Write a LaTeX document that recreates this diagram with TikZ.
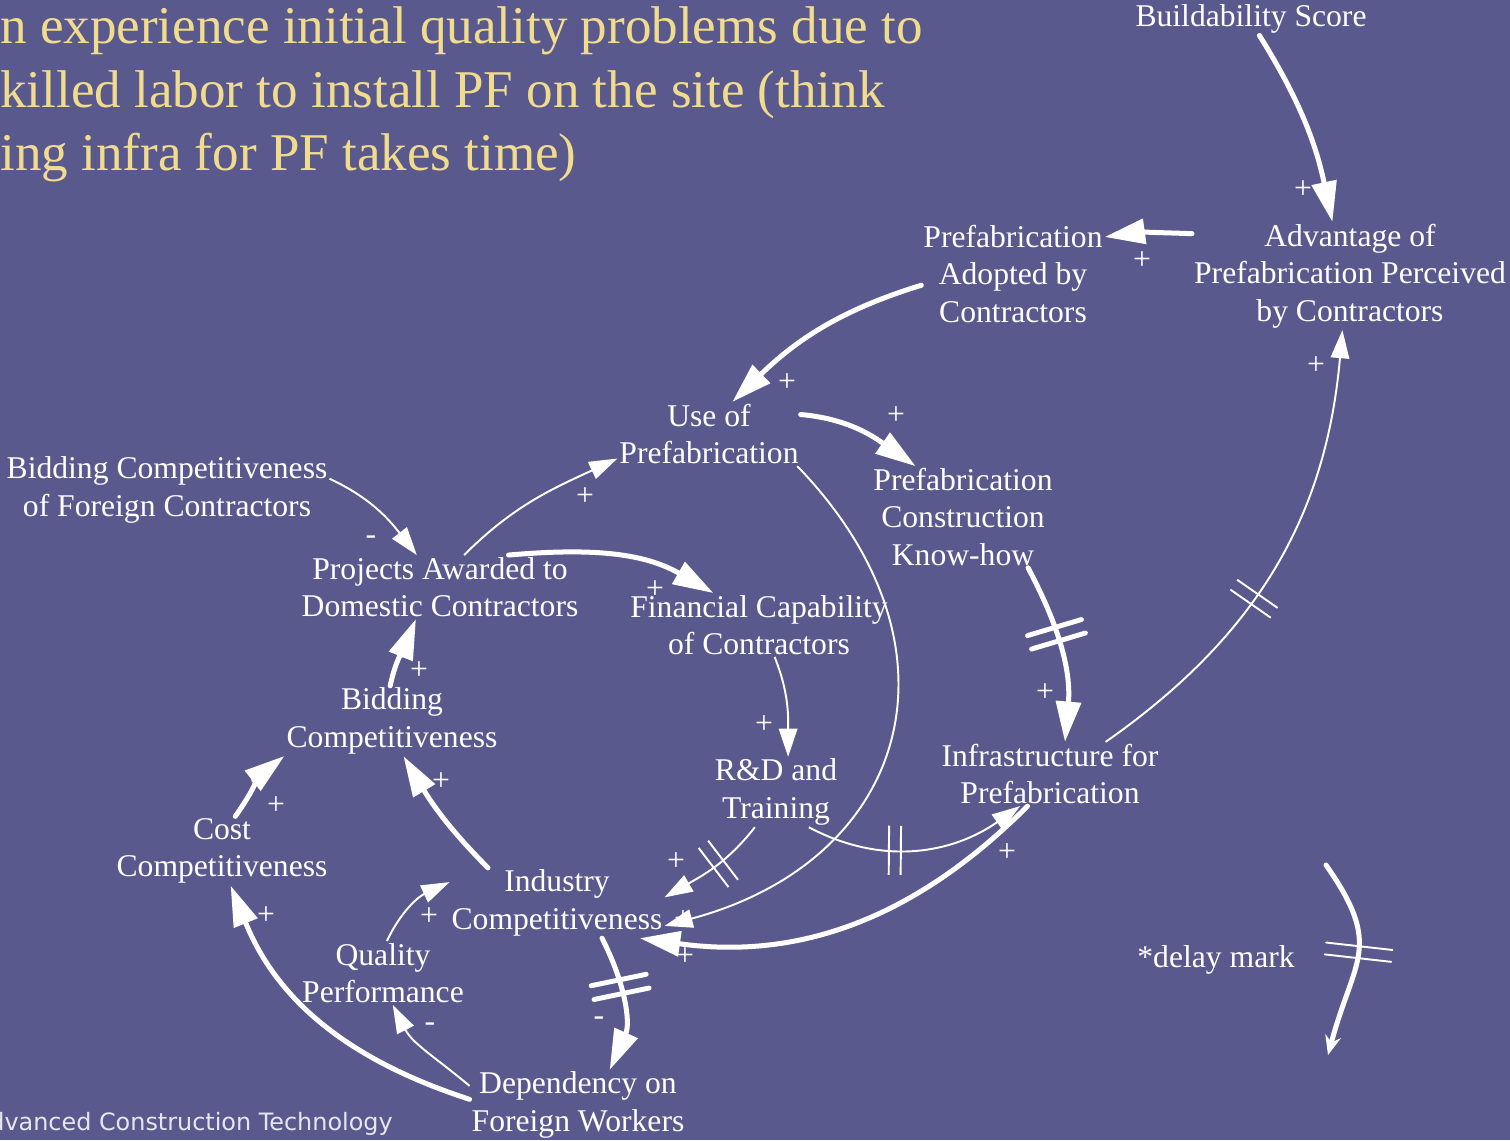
\documentclass[tikz,border=0pt]{standalone}
\usepackage{fontspec}
\setmainfont{Liberation Serif}
\newfontfamily\footfont{DejaVu Sans}
\usetikzlibrary{arrows.meta,decorations.markings}
\definecolor{slate}{HTML}{5A598E}
\definecolor{sand}{HTML}{F0DC8C}
\definecolor{chalk}{HTML}{FFFFFF}
\definecolor{mist}{HTML}{E6E6EE}

\begin{document}
\begin{tikzpicture}[x=0.02cm,y=-0.02cm, every node/.style={text=chalk,inner sep=1pt}, var/.style={align=center,font=\fontsize{18}{21.3}\selectfont}, sgn/.style={font=\fontsize{18}{20}\selectfont}, thk/.style={draw=chalk,line width=2.85pt,line cap=round,-{Triangle[length=23pt,width=14pt]}}, thn/.style={draw=chalk,line width=1.1pt,-{Triangle[length=16pt,width=10.5pt]}}, dlythk/.style={postaction={decorate,decoration={markings,mark=at position #1 with {\draw[chalk,line width=2.8pt,line cap=round,-] (-4pt,-16pt)--(-4pt,16pt) (4pt,-16pt)--(4pt,16pt);}}}}, dlythn/.style 2 args={postaction={decorate,decoration={markings,mark=at position #1 with {\draw[chalk,line width=1.1pt,-] (-3.4pt,-#2)--(-3.4pt,#2) (3.4pt,-#2)--(3.4pt,#2);}}}}]
\useasboundingbox (0,0) rectangle (1510,1140);
\fill[slate] (0,0) rectangle (1510,1140);
% note at the top, cut at the left edge
\node[anchor=base west,inner sep=0,text=sand,font=\fontsize{30.2}{36}\selectfont] (note1) at (0,43) {n experience initial quality problems due to};
\node[anchor=base west,inner sep=0,text=sand,font=\fontsize{30.2}{36}\selectfont] (note2) at (0,107) {killed labor to install PF on the site (think};
\node[anchor=base west,inner sep=0,text=sand,font=\fontsize{30.2}{36}\selectfont] (note3) at (0,170) {ing infra for PF takes time)};
\node[anchor=base west,inner sep=0,text=mist,font=\footfont\fontsize{13.6}{15}\selectfont] (footer) at (-11,1130) {dvanced Construction Technology};
% variables
\node[var] (score) at (1251,19) {Buildability Score};
\node[var] (advantage) at (1350,276) {Advantage of\\Prefabrication Perceived\\by Contractors};
\node[var] (adopted) at (1013,274) {Prefabrication\\Adopted by\\Contractors};
\node[var] (usepf) at (709,434) {Use of\\Prefabrication};
\node[var] (knowhow) at (963,517) {Prefabrication\\Construction\\Know-how};
\node[var] (foreign) at (167,490) {Bidding Competitiveness\\of Foreign Contractors};
\node[var] (awarded) at (440,587) {Projects Awarded to\\Domestic Contractors};
\node[var] (finance) at (759,625) {Financial Capability\\of Contractors};
\node[var] (bidding) at (392,721) {Bidding\\Competitiveness};
\node[var] (rnd) at (776,792) {R\&D and\\Training};
\node[var] (infra) at (1050,774) {Infrastructure for\\Prefabrication};
\node[var] (cost) at (222,851) {Cost\\Competitiveness};
\node[var] (industry) at (557,903) {Industry\\Competitiveness};
\node[var] (quality) at (383,973) {Quality\\Performance};
\node[var] (depend) at (578,1105) {Dependency on\\Foreign Workers};
\node[var] (legend) at (1216,960) {*delay mark};
% links
\draw[thk] (score.-63) to[out=-58,in=102] (advantage.108);
\draw[thk] (advantage.165) to[out=178,in=8] (adopted.22);
\draw[thk] (adopted.187) to[out=197,in=44] (usepf.54);
\draw[thk] (usepf.12) to[out=-5,in=145] (knowhow.133);
\draw[thn] (usepf.-20) to[out=-46,in=15,looseness=1.35] (industry.-12);
\draw[thk,dlythk=.4] (knowhow.-38) to[out=-62,in=85] (infra.65);
\draw[thn,dlythn={.42}{14pt}] (infra.30) to[out=35,in=-95] (advantage.-98);
\draw[thn] (foreign.4) to[out=-25,in=128] (awarded.126);
\draw[thn] (awarded.53) to[out=45,in=205] (usepf.195);
\draw[thk] (awarded.25) to[out=5,in=150] (finance.145);
\draw[thn] (finance.-64) to[out=-68,in=90] (rnd.71);
\draw[thn,dlythn={.45}{14pt}] (rnd.-121) to[out=232,in=30] (industry.3);
\draw[thn,dlythn={.4}{14pt}] (rnd.-47) to[out=-28,in=215] (infra.-133);
\draw[thk] (infra.-125) to[out=225,in=-8] (industry.-23);
\draw[thk] (bidding.93) to[out=78,in=-112] (awarded.-127);
\draw[thk] (industry.153) to[out=135,in=-59] (bidding.-72);
\draw[thk] (cost.69) to[out=55,in=218] (bidding.198);
\draw[thn] (quality.83) to[out=65,in=205] (industry.169);
\draw[thk] (depend.177) to[out=162,in=-68] (cost.-76);
\draw[thn] (depend.170) to[out=140,in=-63] (quality.-73);
\draw[thk,dlythk=.38] (industry.-38) to[out=-63,in=66] (depend.48);
% legend arrow
\coordinate (legA) at (1326,865);
\coordinate (legB) at (1328,1055);
\draw[draw=chalk,line width=2.85pt,line cap=round,-{Stealth[length=11pt,width=9pt]},dlythn={.47}{19pt}] (legA) to[out=-55,in=75,looseness=1.35] (legB);
% polarities
\foreach \x/\y/\s [count=\i] in {1303/190/+,1142/261/+,787/383/+,896/416/+,683/920/+,1045/693/+,1316/366/+,371/540/-,585/497/+,655/590/+,764/725/+,676/862/+,1007/853/+,685/957/+,419/671/+,441/782/+,276/806/+,429/917/+,266/916/+,430/1027/-,599/1021/-}
  \node[sgn] (sign\i) at (\x,\y) {\s};
\end{tikzpicture}
\end{document}
